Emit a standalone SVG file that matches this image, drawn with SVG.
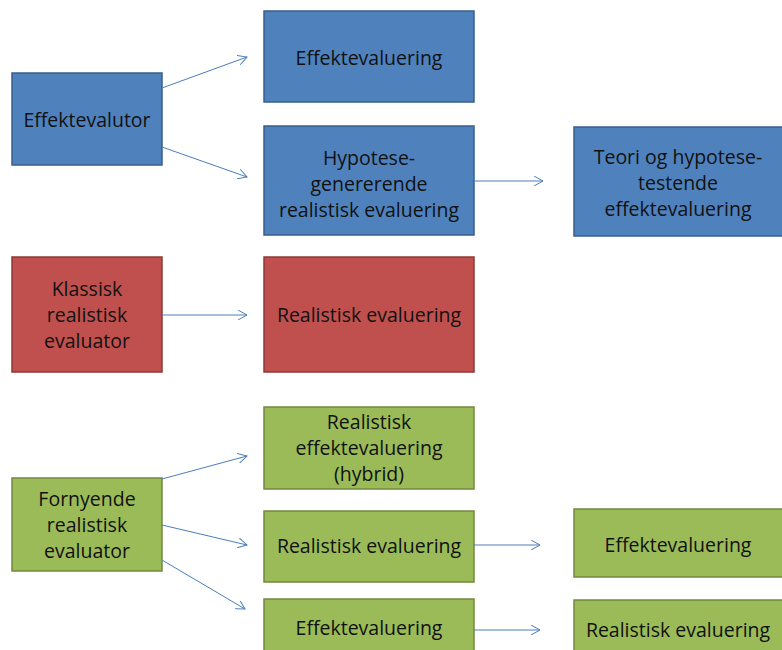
<svg xmlns="http://www.w3.org/2000/svg" width="782" height="650" viewBox="0 0 782 650">
<style>
text{font-family:"Open Sans","Noto Sans",sans-serif;font-size:19.5px;fill:#111;text-anchor:middle}
.b{fill:#4F81BD;stroke:#385D8A;stroke-width:1.5}
.r{fill:#C0504D;stroke:#8C3836;stroke-width:1.5}
.g{fill:#9BBB59;stroke:#71893F;stroke-width:1.5}
.c line{stroke:#4A7EBB;stroke-width:1;fill:none;marker-end:url(#ah)}
</style>
<defs>
<marker id="ah" viewBox="0 0 10 10" refX="9" refY="5" markerWidth="10" markerHeight="10" markerUnits="userSpaceOnUse" orient="auto">
<path d="M0,0 L9,5 L0,10" fill="none" stroke="#4A7EBB" stroke-width="1"/>
</marker>
</defs>
<rect width="782" height="650" fill="#fff"/>
<g id="effektevalutor"><rect class="b" x="12" y="73" width="150" height="92"/><text x="87" y="127">Effektevalutor</text></g>
<g id="effektevaluering1"><rect class="b" x="264" y="11" width="210" height="91"/><text x="369" y="65">Effektevaluering</text></g>
<g id="hypotese"><rect class="b" x="264" y="126" width="210" height="109"/><text x="369" y="165">Hypotese-</text><text x="369" y="191">genererende</text><text x="369" y="217">realistisk evaluering</text></g>
<g id="teori"><rect class="b" x="574" y="127" width="212" height="109"/><text x="678" y="164">Teori og hypotese-</text><text x="678" y="190">testende</text><text x="678" y="216">effektevaluering</text></g>
<g id="klassisk"><rect class="r" x="12" y="257" width="150" height="115"/><text x="87" y="296">Klassisk</text><text x="87" y="322">realistisk</text><text x="87" y="348">evaluator</text></g>
<g id="realistisk-red"><rect class="r" x="264" y="257" width="210" height="115"/><text x="369" y="322">Realistisk evaluering</text></g>
<g id="hybrid"><rect class="g" x="264" y="407" width="210" height="82"/><text x="369" y="429">Realistisk</text><text x="369" y="455">effektevaluering</text><text x="369" y="481">(hybrid)</text></g>
<g id="fornyende"><rect class="g" x="12" y="478" width="150" height="93"/><text x="87" y="506">Fornyende</text><text x="87" y="532">realistisk</text><text x="87" y="558">evaluator</text></g>
<g id="realistisk-green"><rect class="g" x="264" y="511" width="210" height="71"/><text x="369" y="553">Realistisk evaluering</text></g>
<g id="effektevaluering-green"><rect class="g" x="264" y="599" width="210" height="60"/><text x="369" y="635">Effektevaluering</text></g>
<g id="effektevaluering-right"><rect class="g" x="574" y="509" width="212" height="68"/><text x="678" y="552">Effektevaluering</text></g>
<g id="realistisk-right"><rect class="g" x="574" y="600" width="212" height="60"/><text x="678" y="637">Realistisk evaluering</text></g>
<g class="c" id="connectors">
<line x1="162" y1="88" x2="247" y2="57"/>
<line x1="162" y1="147" x2="247" y2="177"/>
<line x1="474" y1="181" x2="543" y2="181"/>
<line x1="162" y1="315" x2="247" y2="315"/>
<line x1="162" y1="479" x2="247" y2="456"/>
<line x1="162" y1="525" x2="247" y2="545"/>
<line x1="162" y1="560" x2="245" y2="609"/>
<line x1="474" y1="545" x2="540" y2="545"/>
<line x1="474" y1="630" x2="540" y2="630"/>
</g>
</svg>
